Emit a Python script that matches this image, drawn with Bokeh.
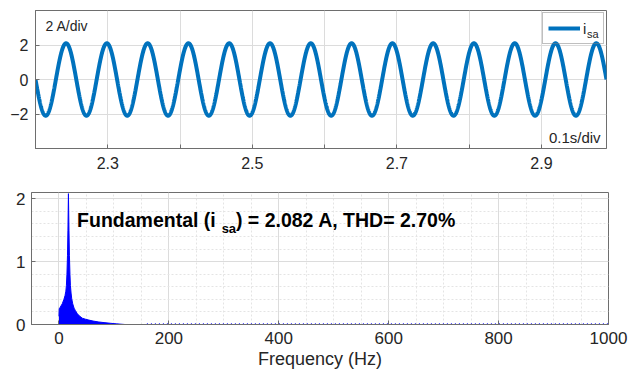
import numpy as np
from bokeh.plotting import figure
from bokeh.layouts import column, row
from bokeh.models import (Range1d, FixedTicker, SingleIntervalTicker, Label,
                          Legend, LegendItem)
from bokeh.embed import file_html
from bokeh.resources import INLINE

# ---------------- data ----------------
# time-domain source current i_sa: sinusoid parameters
WAVE_T_START = 2.2          # s
WAVE_T_END = 2.99           # s
WAVE_CYCLES = 14            # full cycles visible in the window
WAVE_PEAK = 2.1             # A
top_x_ticks = [2.3, 2.5, 2.7, 2.9]
top_x_minor = [2.2, 2.4, 2.6, 2.8]
top_y_ticks = [-2, 0, 2]

# spectrum envelope (Hz, A)
spec_freq = [0, 0.5, 2, 6, 9, 11, 12.5, 13.5, 14.5, 15.5, 16.3, 17.2, 18.2,
             19, 20, 20.8, 22, 23.2, 25, 27.5, 30, 33.5, 38, 42.5, 48, 54.5,
             62, 72.5, 82, 93, 105, 120]
spec_mag = [0.13, 0.25, 0.27, 0.33, 0.40, 0.46, 0.53, 0.62, 0.8, 1.1, 1.5,
            2.082, 1.5, 1.1, 0.8, 0.62, 0.5, 0.41, 0.33, 0.26, 0.22, 0.17,
            0.13, 0.10, 0.085, 0.07, 0.055, 0.04, 0.03, 0.02, 0.01, 0.0]
noise_freq = [160, 1000]
noise_mag = [0.012, 0.012]

FONT = "Liberation Sans"
TXT = "#262626"
AX = "#6e6e6e"
GRID = "#dcdcdc"

# ---------------- top: waveform ----------------
freq = WAVE_CYCLES / (WAVE_T_END - WAVE_T_START)
t = np.linspace(WAVE_T_START, WAVE_T_END, 4000)
i_sa = -WAVE_PEAK * np.sin(2 * np.pi * freq * (t - WAVE_T_START))

top = figure(width=641, height=180, x_range=Range1d(2.2, 2.99),
             y_range=Range1d(-4, 4), output_backend="svg",
             toolbar_location=None, title=None,
             min_border_left=35, min_border_right=35,
             min_border_top=10, min_border_bottom=32)
r = top.line(t, i_sa, line_color="#0072BD", line_width=4)

top.xaxis.ticker = FixedTicker(ticks=top_x_ticks, minor_ticks=top_x_minor)
top.yaxis.ticker = FixedTicker(ticks=top_y_ticks, minor_ticks=[-4, 4])

top.xgrid.grid_line_color = GRID
top.xgrid.minor_grid_line_color = GRID
top.ygrid.grid_line_color = GRID

legend = Legend(items=[LegendItem(label="i", renderers=[r])],
                location="top_right", glyph_width=32, glyph_height=20,
                label_width=15, label_height=20, label_standoff=3, padding=5,
                margin=2, spacing=0, border_line_color="#808080",
                label_text_font=FONT, label_text_font_size="15px",
                label_text_color=TXT, background_fill_alpha=0.0)
top.add_layout(legend)
top.add_layout(Label(x=2.9630, y=2.66, text="sa", text_font=FONT,
                     text_font_size="11px", text_color=TXT, level="overlay",
                     text_align="left", text_baseline="middle"))
top.add_layout(Label(x=2.2139, y=3.13, text="2 A/div", text_font=FONT,
                     text_font_size="14px", text_color=TXT,
                     text_align="left", text_baseline="middle"))
top.add_layout(Label(x=2.9818, y=-3.36, text="0.1s/div", text_font=FONT,
                     text_font_size="15px", text_color=TXT,
                     text_align="right", text_baseline="middle"))

# ---------------- bottom: spectrum ----------------
bot = figure(width=641, height=196, x_range=Range1d(-50, 1000),
             y_range=Range1d(0, 2.1), output_backend="svg",
             toolbar_location=None, title=None,
             min_border_left=31, min_border_right=33,
             min_border_top=12, min_border_bottom=52)
bot.varea(x=spec_freq, y1=0, y2=spec_mag, fill_color="#0000ff")
bot.line(spec_freq, spec_mag, line_color="#0000ff", line_width=1)
bot.line(noise_freq, noise_mag, line_color="#0000ff", line_width=1.5,
         line_dash="1 3", line_alpha=0.7)

bot.xaxis.ticker = SingleIntervalTicker(interval=200, num_minor_ticks=4)
bot.yaxis.ticker = SingleIntervalTicker(interval=1, num_minor_ticks=5)
for g in (bot.xgrid, bot.ygrid):
    g.grid_line_color = GRID
    g.minor_grid_line_color = "#e4e4e4"
    g.minor_grid_line_dash = "2 2"

bot.add_layout(Label(x=33.0, y=1.67, text="Fundamental (i", text_font=FONT,
                     text_font_size="19.5px", text_font_style="bold",
                     text_color="black", text_align="left",
                     text_baseline="middle"))
bot.add_layout(Label(x=296.0, y=1.527, text="sa", text_font=FONT,
                     text_font_size="13px", text_font_style="bold",
                     text_color="black", text_align="left",
                     text_baseline="middle"))
bot.add_layout(Label(x=322.0, y=1.67, text=") = 2.082 A, THD= 2.70%",
                     text_font=FONT, text_font_size="19.5px",
                     text_font_style="bold", text_color="black",
                     text_align="left", text_baseline="middle"))
bot.xaxis.axis_label = "Frequency (Hz)"
bot.xaxis.axis_label_text_font = FONT
bot.xaxis.axis_label_text_font_size = "18px"
bot.xaxis.axis_label_text_font_style = "normal"
bot.xaxis.axis_label_text_color = TXT
bot.xaxis.axis_label_standoff = 2

# ---------------- common styling ----------------
for p, fs, st_x, st_y in ((top, "16px", 8, 7), (bot, "17px", 7, 6)):
    p.outline_line_color = AX
    p.outline_line_width = 1
    p.background_fill_color = "white"
    for ax in (p.xaxis, p.yaxis):
        ax.axis_line_color = AX
        ax.major_tick_line_color = AX
        ax.minor_tick_line_color = AX
        ax.major_tick_in = 4
        ax.major_tick_out = 0
        ax.minor_tick_in = 3
        ax.minor_tick_out = 0
        ax.major_label_text_font = FONT
        ax.major_label_text_font_size = fs
        ax.major_label_text_color = TXT
    p.xaxis.major_label_standoff = st_x
    p.yaxis.major_label_standoff = st_y

bot.xaxis.minor_tick_line_color = None
bot.yaxis.minor_tick_line_color = None
top.yaxis.minor_tick_in = 4
top.xaxis.minor_tick_in = 4

layout = column(row(top), row(bot), spacing=0)
open("out.html", "w").write(file_html(layout, INLINE))
